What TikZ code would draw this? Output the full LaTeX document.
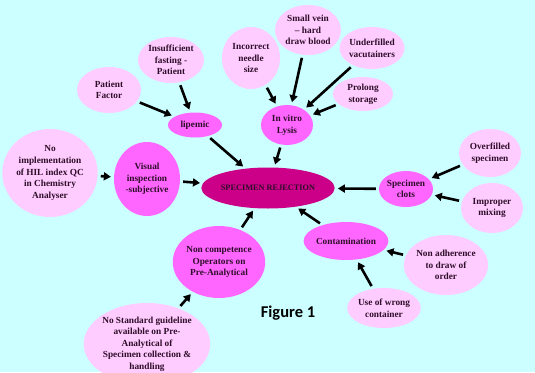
\documentclass[tikz,border=0pt]{standalone}
\usepackage{fontspec}
\setmainfont{Liberation Serif}
\newfontfamily\figfont{Carlito}
\usetikzlibrary{shapes.geometric,arrows.meta}
\definecolor{bgcyan}{HTML}{CCFFFF}
\definecolor{lpink}{HTML}{FFCCFF}
\definecolor{mpink}{HTML}{FF66FF}
\definecolor{dpink}{HTML}{CC0088}
\definecolor{txt}{HTML}{2E0E29}
\tikzset{
  el/.style={ellipse, inner sep=0pt, align=center, text=txt,
    font=\bfseries\fontsize{9.3}{11.6}\selectfont},
  leaf/.style={el, fill=lpink},
  mid/.style={el, fill=mpink},
  core/.style={el, fill=dpink, font=\bfseries\fontsize{8.3}{9}\selectfont},
  arr/.style={line width=2.6pt, black, -{Triangle[length=7pt,width=8pt]},
    shorten <=3pt, shorten >=3pt},
}
\begin{document}
\begin{tikzpicture}[x=1pt,y=-1pt]
\fill[bgcyan] (0,0) rectangle (535,372);
\useasboundingbox (0,0) rectangle (535,372);
\begin{scope}
\clip (0,0) rectangle (535,372);
% centre
\node[core, minimum width=122pt, minimum height=41pt] (rej) at (268,188) {SPECIMEN REJECTION};
% left branch
\node[leaf, minimum width=64pt, minimum height=46pt] (pf) at (109,90) {Patient\\Factor};
\node[leaf, minimum width=66pt, minimum height=46pt] (fast) at (171,60) {Insufficient\\fasting -\\Patient};
\node[mid, minimum width=54pt, minimum height=25pt] (lip) at (195,125) {lipemic};
\node[leaf, minimum width=74pt, minimum height=88pt] (hil) at (50,173) {No\\implementation\\of HIL index QC\\in Chemistry\\Analyser};
\node[mid, minimum width=66pt, minimum height=74pt] (vis) at (147,179) {Visual\\inspection\\-subjective};
% top branch
\node[leaf, minimum width=58pt, minimum height=62pt] (needle) at (251,58) {Incorrect\\needle\\size};
\node[leaf, minimum width=66pt, minimum height=50pt] (vein) at (308,30) {Small vein\\-- hard\\draw blood};
\node[leaf, minimum width=62pt, minimum height=42pt] (under) at (372,48) {Underfilled\\vacutainers};
\node[leaf, minimum width=60pt, minimum height=34pt] (prol) at (363,94) {Prolong\\storage};
\node[mid, minimum width=52pt, minimum height=40pt] (lys) at (287,125) {In vitro\\Lysis};
% right branch
\node[leaf, minimum width=62pt, minimum height=48pt] (over) at (490,153) {Overfilled\\specimen};
\node[mid, minimum width=52pt, minimum height=36pt] (clot) at (406,189) {Specimen\\clots};
\node[leaf, minimum width=62pt, minimum height=50pt] (mix) at (492,208) {Improper\\mixing};
% bottom right
\node[mid, minimum width=70pt, minimum height=38pt] (cont) at (346,241) {Contamination};
\node[leaf, minimum width=70pt, minimum height=60pt] (adh) at (446,265) {Non adherence\\to draw of\\order};
\node[leaf, minimum width=64pt, minimum height=40pt] (wrong) at (384,308) {Use of wrong\\container};
% bottom left
\node[mid, minimum width=86pt, minimum height=72pt] (comp) at (219,262) {Non competence\\Operators on\\Pre-Analytical};
\node[leaf, minimum width=106pt, minimum height=82pt] (std) at (147,344) {No Standard guideline\\available on Pre-\\Analytical of\\Specimen collection \&\\handling};
\end{scope}
\node[font=\figfont\bfseries\fontsize{16.5}{18}\selectfont, text=black] (fig) at (288,313) {Figure 1};
% arrows
\draw[arr] (pf) -- (lip);
\draw[arr] (fast) -- (lip);
\draw[arr] (lip) -- (rej);
\draw[arr] (hil) -- (vis);
\draw[arr] (vis) -- (rej);
\draw[arr] (needle) -- (lys);
\draw[arr] (vein) -- (lys);
\draw[arr] (under) -- (lys);
\draw[arr] (prol) -- (lys);
\draw[arr] (lys) -- (rej);
\draw[arr] (clot) -- (rej);
\draw[arr] (over) -- (clot);
\draw[arr] (mix) -- (clot);
\draw[arr] (cont) -- (rej);
\draw[arr] (adh) -- (cont);
\draw[arr] (wrong) -- (cont);
\draw[arr] (comp) -- (rej);
\draw[arr] (std) -- (comp);
\end{tikzpicture}
\end{document}
